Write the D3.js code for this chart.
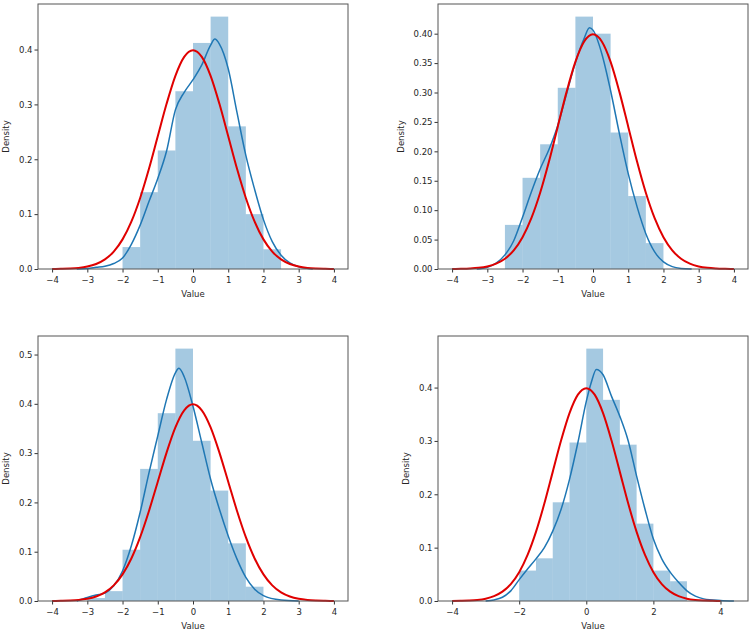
<!DOCTYPE html>
<html>
<head>
<meta charset="utf-8">
<script src="https://cdn.jsdelivr.net/npm/d3@7"></script>
<style>
  body { margin: 0; background: #fff; }
  text { font-family: "DejaVu Sans", sans-serif; fill: #262626; }
</style>
</head>
<body>
<div class="chart"></div>
<script>
// Histogram bins (left edges, width 0.5) and densities for each panel
var binWidth = 0.5;
var bins1 = [-2, -1.5, -1, -0.5, 0, 0.5, 1, 1.5, 2];
var hist1 = [0.04, 0.14, 0.216, 0.324, 0.412, 0.46, 0.26, 0.1, 0.036];
var bins2 = [-2.5, -2, -1.5, -1, -0.5, 0, 0.5, 1, 1.5];
var hist2 = [0.075, 0.155, 0.212, 0.308, 0.429, 0.40, 0.232, 0.124, 0.044];
var bins3 = [-3, -2.5, -2, -1.5, -1, -0.5, 0, 0.5, 1, 1.5];
var hist3 = [0.006, 0.02, 0.104, 0.268, 0.381, 0.512, 0.325, 0.224, 0.117, 0.029];
var bins4 = [-2, -1.5, -1, -0.5, 0, 0.5, 1, 1.5, 2, 2.5];
var hist4 = [0.057, 0.08, 0.185, 0.297, 0.473, 0.377, 0.293, 0.145, 0.057, 0.037];

// KDE curves (x, density)
var kde1 = [[-3.3, 0], [-3, 0.001], [-2.75, 0.003], [-2.5, 0.005], [-2.25, 0.01], [-2, 0.02],
  [-1.75, 0.045], [-1.5, 0.08], [-1.25, 0.123], [-1, 0.165], [-0.75, 0.215], [-0.5, 0.29],
  [-0.25, 0.322], [0, 0.345], [0.25, 0.372], [0.5, 0.408], [0.62, 0.419], [0.75, 0.41],
  [1, 0.365], [1.25, 0.285], [1.5, 0.207], [1.75, 0.145], [2, 0.09], [2.25, 0.05],
  [2.5, 0.025], [2.75, 0.011], [3, 0.004], [3.4, 0]];
var kde2 = [[-3.3, 0], [-3, 0.003], [-2.75, 0.01], [-2.5, 0.024], [-2.25, 0.048], [-2, 0.088],
  [-1.75, 0.131], [-1.5, 0.17], [-1.25, 0.203], [-1, 0.244], [-0.75, 0.298], [-0.5, 0.351],
  [-0.25, 0.392], [-0.1, 0.41], [0, 0.406], [0.25, 0.366], [0.5, 0.303], [0.75, 0.23],
  [1, 0.162], [1.25, 0.106], [1.5, 0.06], [1.75, 0.029], [2, 0.012], [2.25, 0.004],
  [2.5, 0.001], [2.8, 0]];
var kde3 = [[-3.3, 0], [-3, 0.007], [-2.75, 0.012], [-2.5, 0.016], [-2.25, 0.031], [-2, 0.061],
  [-1.75, 0.112], [-1.5, 0.18], [-1.25, 0.26], [-1, 0.335], [-0.75, 0.409], [-0.5, 0.463],
  [-0.4, 0.472], [-0.25, 0.455], [0, 0.395], [0.25, 0.321], [0.5, 0.247], [0.75, 0.186],
  [1, 0.132], [1.25, 0.085], [1.5, 0.048], [1.75, 0.024], [2, 0.011], [2.5, 0.002], [3, 0]];
var kde4 = [[-3, 0], [-2.75, 0.002], [-2.5, 0.007], [-2.25, 0.019], [-2, 0.04], [-1.75, 0.06],
  [-1.5, 0.079], [-1.25, 0.1], [-1, 0.131], [-0.75, 0.172], [-0.5, 0.228], [-0.25, 0.297],
  [0, 0.374], [0.15, 0.41], [0.3, 0.434], [0.5, 0.424], [0.75, 0.384], [1, 0.346],
  [1.25, 0.3], [1.5, 0.234], [1.75, 0.172], [2, 0.116], [2.25, 0.079], [2.5, 0.054],
  [2.75, 0.035], [3, 0.019], [3.25, 0.009], [3.5, 0.004], [4, 0.001], [4.4, 0]];

// Red reference curve (standard normal shape), read at steps of 0.25
var normX = [-4, -3.75, -3.5, -3.25, -3, -2.75, -2.5, -2.25, -2, -1.75, -1.5, -1.25, -1, -0.75, -0.5, -0.25,
  0, 0.25, 0.5, 0.75, 1, 1.25, 1.5, 1.75, 2, 2.25, 2.5, 2.75, 3, 3.25, 3.5, 3.75, 4];
var normY = [0.0001, 0.0004, 0.0009, 0.002, 0.0044, 0.0091, 0.0175, 0.0317, 0.054, 0.0863, 0.1295, 0.1826,
  0.242, 0.3011, 0.3521, 0.3867, 0.3989, 0.3867, 0.3521, 0.3011, 0.242, 0.1826, 0.1295, 0.0863,
  0.054, 0.0317, 0.0175, 0.0091, 0.0044, 0.002, 0.0009, 0.0004, 0.0001];

// Tick values
var xTicks1 = [-4, -3, -2, -1, 0, 1, 2, 3, 4];
var xTicks4 = [-4, -2, 0, 2, 4];
var yTicks1 = [0, 0.1, 0.2, 0.3, 0.4];
var yTicks2 = [0, 0.05, 0.1, 0.15, 0.2, 0.25, 0.3, 0.35, 0.4];
var yTicks3 = [0, 0.1, 0.2, 0.3, 0.4, 0.5];

var panels = [
  { left: 38, top: 4, bins: bins1, hist: hist1, kde: kde1, xTicks: xTicks1, yTicks: yTicks1, fmt: ".1f" },
  { left: 438, top: 4, bins: bins2, hist: hist2, kde: kde2, xTicks: xTicks1, yTicks: yTicks2, fmt: ".2f" },
  { left: 38, top: 336, bins: bins3, hist: hist3, kde: kde3, xTicks: xTicks1, yTicks: yTicks3, fmt: ".1f" },
  { left: 438, top: 336, bins: bins4, hist: hist4, kde: kde4, xTicks: xTicks4, yTicks: yTicks1, fmt: ".1f" }
];

var svgWidth = 755, svgHeight = 637;
var width = 310, height = 265;
var fontSize = "8.5px";

var svg = d3.select(".chart")
  .append("svg")
  .attr("width", svgWidth)
  .attr("height", svgHeight);

var normData = normX.map(function (x, i) { return [x, normY[i]]; });
var minus = function (s) { return s.replace("-", "\u2212"); };

panels.forEach(function (p) {
  var g = svg.append("g").attr("transform", "translate(" + p.left + "," + p.top + ")");

  // x domain: data range with 5% margins, like matplotlib
  var xs = normX.concat(p.kde.map(function (d) { return d[0]; }), p.bins, [p.bins[p.bins.length - 1] + binWidth]);
  var lo = d3.min(xs), hi = d3.max(xs);
  var pad = (hi - lo) * 0.05;
  var x = d3.scaleLinear().domain([lo - pad, hi + pad]).range([0, width]);

  var yMax = d3.max([d3.max(p.hist), d3.max(p.kde, function (d) { return d[1]; }), d3.max(normY)]) * 1.05;
  var y = d3.scaleLinear().domain([0, yMax]).range([height, 0]);

  // histogram bars
  g.selectAll("rect.bar")
    .data(p.hist)
    .enter()
    .append("rect")
    .attr("class", "bar")
    .attr("x", function (d, i) { return x(p.bins[i]); })
    .attr("width", function (d, i) { return x(p.bins[i] + binWidth) - x(p.bins[i]); })
    .attr("y", function (d) { return y(d); })
    .attr("height", function (d) { return height - y(d); })
    .attr("fill", "#1f77b4")
    .attr("fill-opacity", 0.4);

  var line = d3.line()
    .x(function (d) { return x(d[0]); })
    .y(function (d) { return y(d[1]); })
    .curve(d3.curveMonotoneX);

  g.append("path")
    .datum(p.kde)
    .attr("d", line)
    .attr("fill", "none")
    .attr("stroke", "#1f77b4")
    .attr("stroke-width", 1.5);

  g.append("path")
    .datum(normData)
    .attr("d", line)
    .attr("fill", "none")
    .attr("stroke", "#e00000")
    .attr("stroke-width", 2);

  // axes
  var bottomAxis = d3.axisBottom(x).tickValues(p.xTicks).tickSize(3.5).tickPadding(4.5)
    .tickFormat(function (d) { return minus(d3.format("d")(d)); });
  var leftAxis = d3.axisLeft(y).tickValues(p.yTicks).tickSize(3.5).tickPadding(2)
    .tickFormat(d3.format(p.fmt));

  var xa = g.append("g").attr("transform", "translate(0," + height + ")").call(bottomAxis);
  var ya = g.append("g").call(leftAxis);
  [xa, ya].forEach(function (a) {
    a.select(".domain").remove();
    a.selectAll("line").attr("stroke", "#333");
    a.selectAll("text").style("font-size", fontSize).attr("fill", "#262626");
  });

  // frame
  g.append("rect")
    .attr("width", width)
    .attr("height", height)
    .attr("fill", "none")
    .attr("stroke", "#555")
    .attr("stroke-width", 1);

  var labelW = d3.max(ya.selectAll("text").nodes(), function (n) { return n.getComputedTextLength(); });

  g.append("text")
    .attr("transform", "translate(" + (width / 2) + "," + (height + 28) + ")")
    .attr("text-anchor", "middle")
    .style("font-size", fontSize)
    .text("Value");

  g.append("text")
    .attr("transform", "rotate(-90)")
    .attr("x", -height / 2)
    .attr("y", -(labelW + 5.5 + 10))
    .attr("text-anchor", "middle")
    .style("font-size", fontSize)
    .text("Density");
});
</script>
</body>
</html>
